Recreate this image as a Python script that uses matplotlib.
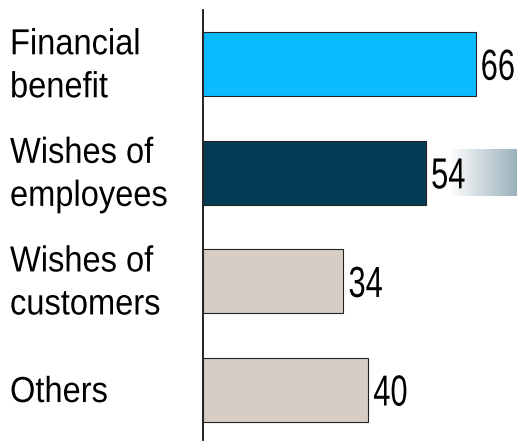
import matplotlib.pyplot as plt
import matplotlib.transforms as mtransforms
from matplotlib.textpath import TextPath
from matplotlib.font_manager import FontProperties
from matplotlib.patches import PathPatch
from matplotlib.colors import LinearSegmentedColormap
import numpy as np

categories = ["Financial\nbenefit", "Wishes of\nemployees", "Wishes of\ncustomers", "Others"]
values = [66, 54, 34, 40]
colors = ["#0bbbff", "#033d55", "#d6cdc5", "#d6cdc5"]

W, H, DPI = 517, 441, 100
fig = plt.figure(figsize=(W / DPI, H / DPI), dpi=DPI)
ax = fig.add_axes([203 / W, 1 - 440 / H, 1 - 203 / W, 430 / H])
ax.set_xlim(0, 76.0)
ax.set_ylim(3.46, -0.5)

font = FontProperties(family="Liberation Sans")


def squeezed_text(s, x, y, trans, size, sx, dx=0, dy=0):
    # text drawn as a path, narrowed horizontally; dx/dy are pixel offsets
    path = TextPath((0, 0), s, size=size, prop=font)
    t = (mtransforms.Affine2D().scale(sx / 72.0, 1 / 72.0)
         .translate(dx / DPI, dy / DPI)
         + fig.dpi_scale_trans
         + mtransforms.ScaledTranslation(x, y, trans))
    fig.add_artist(PathPatch(path, transform=t, facecolor="black",
                             edgecolor="none", lw=0))


y = np.arange(len(values))
ax.barh(y, values, height=0.59, color=colors, edgecolor="#222222", linewidth=0.8, zorder=3)

# shaded strip behind the second value label
fade = LinearSegmentedColormap.from_list("fade", ["#ffffff", "#9bb1bb"])
grad = np.linspace(0, 1, 256).reshape(1, -1)
ax.imshow(grad, cmap=fade, aspect="auto", extent=(59.6, 76.0, 1.216, 0.784), zorder=1)

# value labels: condensed digits, vertically centred on the bar
for yi, v in zip(y, values):
    squeezed_text(str(v), v, yi, ax.transData, size=31.3, sx=0.71, dx=5, dy=-15.5)

# category labels on the left
label_trans = mtransforms.blended_transform_factory(fig.transFigure, ax.transData)
for yi, c in zip(y, categories):
    lines = c.split("\n")
    if len(lines) == 1:
        offsets = [-12]
    else:
        offsets = [10, -33]
    for line, off in zip(lines, offsets):
        squeezed_text(line, 10 / W, yi, label_trans, size=26.1, sx=0.9, dy=off)

for s in ["top", "right", "bottom"]:
    ax.spines[s].set_visible(False)
ax.spines["left"].set_linewidth(1.3)
ax.spines["left"].set_color("#111111")
ax.set_xticks([])
ax.set_yticks([])

fig.savefig("out.png", dpi=DPI)
